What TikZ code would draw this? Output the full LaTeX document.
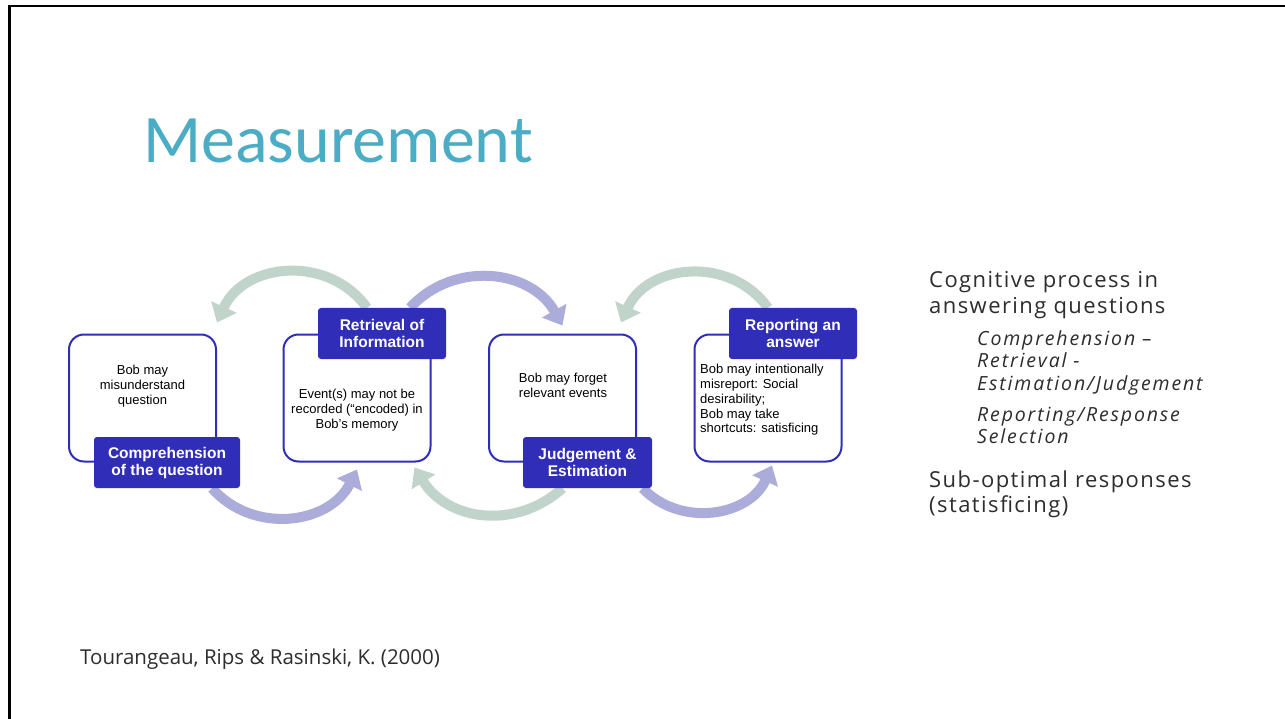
\documentclass[tikz,border=0pt]{standalone}
\usepackage{fontspec}
\setmainfont{Liberation Sans}
\newfontfamily\slidefont{Carlito}
\newfontfamily\bodyfont{Open Sans}
\newfontfamily\sidefont[LetterSpace=6.5]{Open Sans}
\newfontfamily\sideitfont[LetterSpace=9.5]{Open Sans Italic}
\usetikzlibrary{arrows.meta,positioning,calc,backgrounds}

\definecolor{titleteal}{RGB}{75,172,198}
\definecolor{stepblue}{RGB}{48,46,184}
\definecolor{backsage}{RGB}{193,212,204}
\definecolor{fwdlilac}{RGB}{172,172,218}
\definecolor{slidegrey}{RGB}{45,45,45}

\begin{document}
\begin{tikzpicture}[x=1pt, y=1pt,
    stage/.style={draw=stepblue, line width=2pt, fill=white, rounded corners=15pt, minimum width=147pt, minimum height=127pt},
    tag/.style={fill=stepblue, rounded corners=3pt, minimum width=128pt, minimum height=51pt, text=white, align=center, inner sep=2pt, font=\bfseries\fontsize{15.5}{17}\selectfont},
    note/.style={inner sep=0pt, font=\fontsize{13}{14.8}\selectfont},
    fwd/.style={-{Triangle[length=17pt, width=27pt]}, line width=10pt, fwdlilac},
    back/.style={-{Triangle[length=17pt, width=27pt]}, line width=10pt, backsage},
    slide/.style={inner sep=0pt, text=slidegrey, align=left},
  ]
  \useasboundingbox (0,0) rectangle (1285,-719);

  % frame and title
  \draw[line width=2.5pt] (9.5,-719) -- (9.5,-6) -- (1285,-6);
  \node[inner sep=0pt, anchor=base west, text=titleteal, font=\slidefont\fontsize{68}{80}\selectfont] (title) at (143,-163) {Measurement};

  % the four stages
  \node[stage] (comp) at (142.5,-398) {};
  \node[stage] (retr) at (357,-398) {};
  \node[stage] (judg) at (562.5,-398) {};
  \node[stage] (repo) at (768,-398) {};

  \node[tag, minimum width=146pt] (compT) at ([xshift=24.5pt]comp.south) {Comprehension\\of the question};
  \node[tag] (retrT) at ([xshift=25pt]retr.north) {Retrieval of\\Information};
  \node[tag, minimum width=129pt] (judgT) at ([xshift=25pt]judg.south) {Judgement \&\\Estimation};
  \node[tag] (repoT) at ([xshift=25pt]repo.north) {Reporting an\\answer};

  \node[note, align=center] (compN) at (142.5,-386) {Bob may\\misunderstand\\question};
  \node[note, align=center] (retrN) at (357,-410) {Event(s) may not be\\recorded (“encoded) in\\Bob’s memory};
  \node[note, align=left] (judgN) at (563,-385) {Bob may forget\\relevant events};
  \node[note, align=left, anchor=west] (repoN) at (700,-400) {Bob may intentionally\\misreport: Social\\desirability;\\Bob may take\\shortcuts: satisficing};

  % loops between the stages
  \begin{scope}[on background layer]
    \fill[white] (0,0) rectangle (1285,-719);
    \draw[back] ([xshift=-15pt]retrT.north) to[bend right=60, looseness=1.12] ([yshift=11pt]comp.north east);
    \draw[fwd] ([xshift=45pt]compT.south) to[bend right=56, looseness=1.08] ([yshift=-7pt]retr.south);
    \draw[fwd] ([xshift=28pt]retrT.north) to[bend left=54, looseness=1.08] ([yshift=8pt]judg.north);
    \draw[back] ([xshift=-25pt]judgT.south) to[bend left=50, looseness=1.08] ([xshift=-17pt,yshift=-5pt]retr.south east);
    \draw[back] ([xshift=-25pt]repoT.north) to[bend right=60, looseness=1.12] ([xshift=-16pt,yshift=11pt]judg.north east);
    \draw[fwd] ([xshift=55pt]judgT.south) to[bend right=56, looseness=1.08] ([xshift=4pt,yshift=-3pt]repo.south);
  \end{scope}

  % side text and source (base is the last line)
  \node[slide, anchor=base west, font=\sidefont\fontsize{22}{25.5}\selectfont] (process) at (929,-313.5) {Cognitive process in\\answering questions};
  \node[slide, anchor=base west, font=\sideitfont\fontsize{19.5}{22.5}\selectfont] (steps) at (977,-390) {Comprehension –\\Retrieval -\\Estimation/Judgement};
  \node[slide, anchor=base west, font=\sideitfont\fontsize{19.5}{22.5}\selectfont] (select) at (977,-443.5) {Reporting/Response\\Selection};
  \node[slide, anchor=base west, font=\sidefont\fontsize{22}{25.5}\selectfont] (subopt) at (929,-512.5) {Sub-optimal responses\\(statisficing)};
  \node[slide, anchor=base west, font=\bodyfont\fontsize{20.5}{24}\selectfont] (source) at (80,-664) {Tourangeau, Rips \& Rasinski, K. (2000)};
\end{tikzpicture}
\end{document}
